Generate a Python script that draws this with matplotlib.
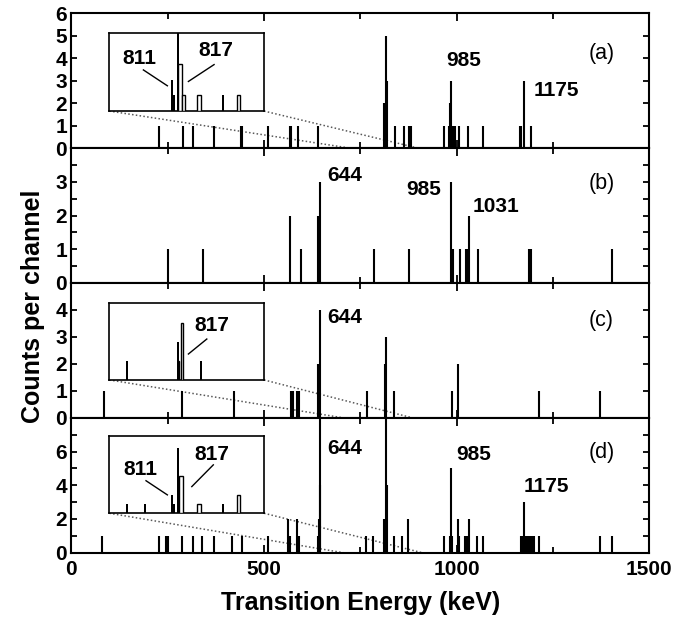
import matplotlib
matplotlib.use('Agg')
import matplotlib.pyplot as plt
from matplotlib.ticker import MultipleLocator, FixedLocator

plt.rcParams['font.family'] = ['Liberation Sans', 'DejaVu Sans']

# ---------------- data (keV, counts per channel) ----------------
a_energy = [227, 289, 315, 371, 441, 444, 509, 567, 570, 588, 639,
            810, 813, 817, 820, 839, 862, 876, 881,
            968, 981, 983, 986, 990, 996, 1006, 1030, 1069,
            1164, 1166, 1175, 1194]
a_counts = [1, 1, 1, 1, 1, 1, 1, 1, 1, 1, 1,
            2, 2, 5, 3, 1, 1, 1, 1,
            1, 1, 2, 3, 1, 1, 1, 1, 1,
            1, 1, 3, 1]

b_energy = [252, 341, 567, 595, 641, 644, 786, 876, 984, 991, 1009,
            1025, 1028, 1031, 1054, 1187, 1194, 1404]
b_counts = [1, 1, 2, 1, 2, 3, 1, 1, 3, 1, 1,
            1, 1, 2, 1, 1, 1, 1]

c_energy = [84, 288, 422, 570, 574, 586, 591, 641, 644, 768, 814, 817,
            838, 987, 1002, 1213, 1373]
c_counts = [1, 1, 1, 1, 1, 1, 1, 2, 4, 1, 2, 3,
            1, 1, 2, 1, 1]

d_energy = [80, 227, 246, 250, 287, 315, 340, 371, 418, 442, 509,
            563, 567, 586, 590, 639, 642, 644, 646, 764, 784,
            811, 817, 820, 837, 859, 874,
            967, 982, 985, 988, 1002, 1006, 1021, 1026, 1031, 1052, 1069,
            1166, 1172, 1175, 1181, 1186, 1191, 1196, 1200, 1214, 1372, 1402]
d_counts = [1, 1, 1, 1, 1, 1, 1, 1, 1, 1, 1,
            2, 1, 2, 1, 1, 2, 9, 4, 1, 1,
            2, 9, 4, 1, 1, 2,
            1, 1, 5, 1, 2, 1, 1, 1, 2, 1, 1,
            1, 1, 3, 1, 1, 1, 1, 1, 1, 1, 1]

# insets (fine binning around the 811/817 doublet)
ia_fill_e = [811.4, 813.5, 817.5, 858]
ia_fill_c = [2, 1, 5, 1]
ia_open_e = [818.7, 822, 836, 872]
ia_open_c = [3, 1, 1, 1]

ic_fill_e = [770.7, 817.5, 837.7]
ic_fill_c = [1, 2, 1]
ic_open_e = [817.5, 821]
ic_open_c = [1, 3]

id_fill_e = [770.7, 787.3, 811.4, 813.5, 817.5, 858]
id_fill_c = [1, 1, 2, 1, 7, 1]
id_open_e = [820, 836, 872]
id_open_c = [4, 1, 2]

panel_names = ['(a)', '(b)', '(c)', '(d)']

# ---------------- figure ----------------
fig = plt.figure(figsize=(6.95, 6.18), dpi=100)
left, right = 0.1027, 0.9344
top, bottom = 0.9785, 0.1057
ph = (top - bottom) / 4

panels = [
    dict(e=a_energy, c=a_counts, ymax=6, yt=[0, 1, 2, 3, 4, 5, 6], ymin=[], lab=0.70),
    dict(e=b_energy, c=b_counts, ymax=4, yt=[0, 1, 2, 3], ymin=[0.5, 1.5, 2.5, 3.5], lab=0.74),
    dict(e=c_energy, c=c_counts, ymax=5, yt=[0, 1, 2, 3, 4], ymin=[], lab=0.72),
    dict(e=d_energy, c=d_counts, ymax=8, yt=[0, 2, 4, 6], ymin=[1, 3, 5, 7], lab=0.74),
]

bold = dict(fontsize=15, fontweight='bold')
axes = []
for i, p in enumerate(panels):
    ax = fig.add_axes([left, top - (i + 1) * ph, right - left, ph])
    ax.vlines(p['e'], 0, p['c'], colors='k', lw=1.5, zorder=3)
    ax.set_xlim(0, 1500)
    ax.set_ylim(0, p['ymax'])
    ax.xaxis.set_major_locator(MultipleLocator(500))
    ax.xaxis.set_minor_locator(MultipleLocator(250))
    ax.yaxis.set_major_locator(FixedLocator(p['yt']))
    ax.yaxis.set_minor_locator(FixedLocator(p['ymin']))
    ax.tick_params(which='both', direction='in', top=True, right=True, width=1.3)
    ax.tick_params(axis='x', which='major', length=6, pad=5)
    ax.tick_params(axis='x', which='minor', length=4)
    ax.tick_params(axis='y', which='both', length=4.5, pad=3)
    ax.tick_params(labelsize=15)
    for lab in ax.get_yticklabels() + ax.get_xticklabels():
        lab.set_fontweight('bold')
    if i < 3:
        ax.tick_params(labelbottom=False)
    for s in ax.spines.values():
        s.set_linewidth(1.5)
    ax.text(1376, p['ymax'] * p['lab'], panel_names[i], fontsize=15.5, ha='center', va='center')
    axes.append(ax)

ax_a, ax_b, ax_c, ax_d = axes

# peak labels
ax_a.text(1017, 3.9, '985', ha='center', va='center', **bold)
ax_a.text(1259, 2.55, '1175', ha='center', va='center', **bold)
ax_b.text(708, 3.2, '644', ha='center', va='center', **bold)
ax_b.text(913, 2.77, '985', ha='center', va='center', **bold)
ax_b.text(1101, 2.27, '1031', ha='center', va='center', **bold)
ax_c.text(710, 3.73, '644', ha='center', va='center', **bold)
ax_d.text(710, 6.2, '644', ha='center', va='center', **bold)
ax_d.text(1043, 5.8, '985', ha='center', va='center', **bold)
ax_d.text(1233, 3.9, '1175', ha='center', va='center', **bold)

fig.text(0.048, 0.505, 'Counts per channel', rotation=90, ha='center', va='center',
         fontsize=18, fontweight='bold')
fig.text((left + right) / 2, 0.005, 'Transition Energy (keV)', ha='center', va='bottom',
         fontsize=18, fontweight='bold')


def make_inset(ax, rect, ylim, fe, fc, oe, oc, labels, ends, open_w=3.2):
    ins = ax.inset_axes(rect)
    ins.bar(fe, fc, width=1.7, color='k', zorder=2)
    ins.bar(oe, oc, width=open_w, facecolor='white', edgecolor='k', lw=1.0, zorder=3)
    ins.set_xlim(755, 895)
    ins.set_ylim(0, ylim)
    ins.set_xticks([])
    ins.set_yticks([])
    for s in ins.spines.values():
        s.set_linewidth(1.2)
    for txt, tx, ty, x1, y1, x2, y2 in labels:
        ins.text(tx, ty, txt, transform=ins.transAxes, ha='center', va='center', **bold)
        ins.plot([x1, x2], [y1, y2], transform=ins.transAxes, color='k', lw=1.0)
    ymax = ax.get_ylim()[1]
    x0, y0, w, h = rect
    ax.plot([x0 * 1500, ends[0]], [y0 * ymax, 0], color='0.35', lw=1.1,
            ls=(0, (1, 1.5)), zorder=1)
    ax.plot([(x0 + w) * 1500, ends[1]], [y0 * ymax, 0], color='0.35', lw=1.1,
            ls=(0, (1, 1.5)), zorder=1)
    return ins


make_inset(ax_a, [0.0657, 0.275, 0.2676, 0.582], 5, ia_fill_e, ia_fill_c, ia_open_e, ia_open_c,
           [('811', 0.192, 0.665, 0.22, 0.524, 0.375, 0.322),
            ('817', 0.688, 0.772, 0.677, 0.592, 0.511, 0.377)], (723, 900))
make_inset(ax_c, [0.0657, 0.281, 0.2676, 0.567], 4, ic_fill_e, ic_fill_c, ic_open_e, ic_open_c,
           [('817', 0.662, 0.709, 0.63, 0.535, 0.511, 0.339)], (705, 885), open_w=1.6)
make_inset(ax_d, [0.0657, 0.2925, 0.2676, 0.574], 8.3, id_fill_e, id_fill_c, id_open_e, id_open_c,
           [('811', 0.198, 0.56, 0.237, 0.42, 0.375, 0.237),
            ('817', 0.662, 0.754, 0.672, 0.625, 0.533, 0.344)], (705, 910))

fig.savefig('out.png', dpi=100)
